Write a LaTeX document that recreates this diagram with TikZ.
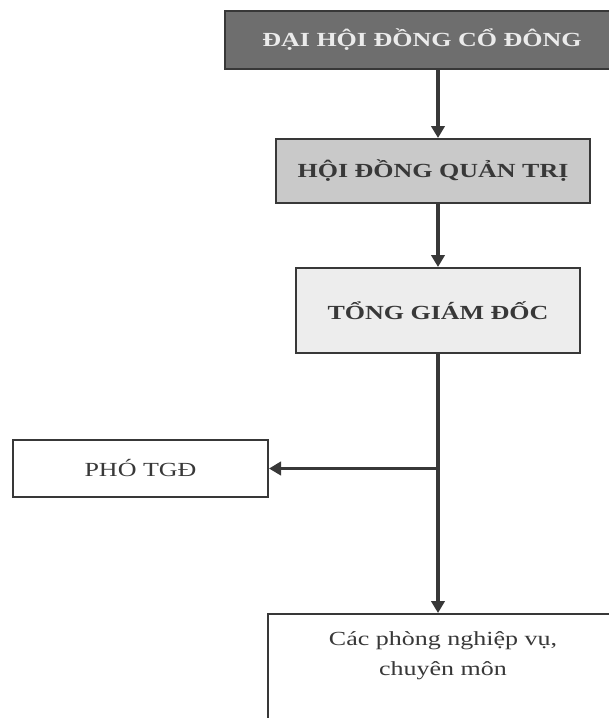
\documentclass[tikz,border=0pt]{standalone}
\usepackage{fontspec}
\setmainfont[FakeStretch=1.3]{Liberation Serif}
\usetikzlibrary{arrows.meta,positioning}
\usepackage{xcolor}
\definecolor{inkline}{HTML}{383838}
\definecolor{darkfill}{HTML}{6E6E6E}
\definecolor{midfill}{HTML}{C9C9C9}
\definecolor{lightfill}{HTML}{EDEDED}

\begin{document}
\begin{tikzpicture}[x=0.75pt,y=-0.75pt,>={Triangle[length=9pt,width=10pt]},
  box/.style={draw=inkline,line width=1.5pt,inner sep=0pt,align=center,text=inkline,
    font=\fontsize{15}{22.5}\selectfont},
  bold/.style={font=\bfseries\fontsize{15}{22.5}\selectfont},
  link/.style={->,line width=2.4pt,draw=inkline}]
  \useasboundingbox (0,0) rectangle (608,718);
  % khung
  \node[box,bold,fill=darkfill,text=white!92!black,minimum width=295.5pt,minimum height=43.5pt] (dhcd) at (422,40) {ĐẠI HỘI ĐỒNG CỔ ĐÔNG};
  \node[box,bold,fill=midfill,minimum width=235.5pt,minimum height=48pt] (hdqt) at (433,171) {HỘI ĐỒNG QUẢN TRỊ};
  \node[box,bold,fill=lightfill,minimum width=213pt,minimum height=63.75pt] (tgd) at (438,310.5) {TỔNG GIÁM ĐỐC};
  \node[box,fill=white,minimum width=191.25pt,minimum height=42.75pt] (pho) at (140.5,468.5) {PHÓ TGĐ};
  \node[box,fill=white,minimum width=262.5pt,minimum height=110pt,anchor=north west] (phong) at (267,613) {};
  \node[inner sep=0pt,align=center,text=inkline,font=\fontsize{15}{22.5}\selectfont,below=13.5pt of phong.north] (phongtext) {Các phòng nghiệp vụ,\\chuyên môn};
  % duong noi
  \coordinate (split) at (tgd.south |- pho.east);
  \draw[link] (tgd.north |- dhcd.south) -- (tgd.north |- hdqt.north);
  \draw[link] (tgd.north |- hdqt.south) -- (tgd.north);
  \draw[link] (tgd.south) -- (tgd.south |- phong.north);
  \draw[link] (split) -- (pho.east);
\end{tikzpicture}
\end{document}
